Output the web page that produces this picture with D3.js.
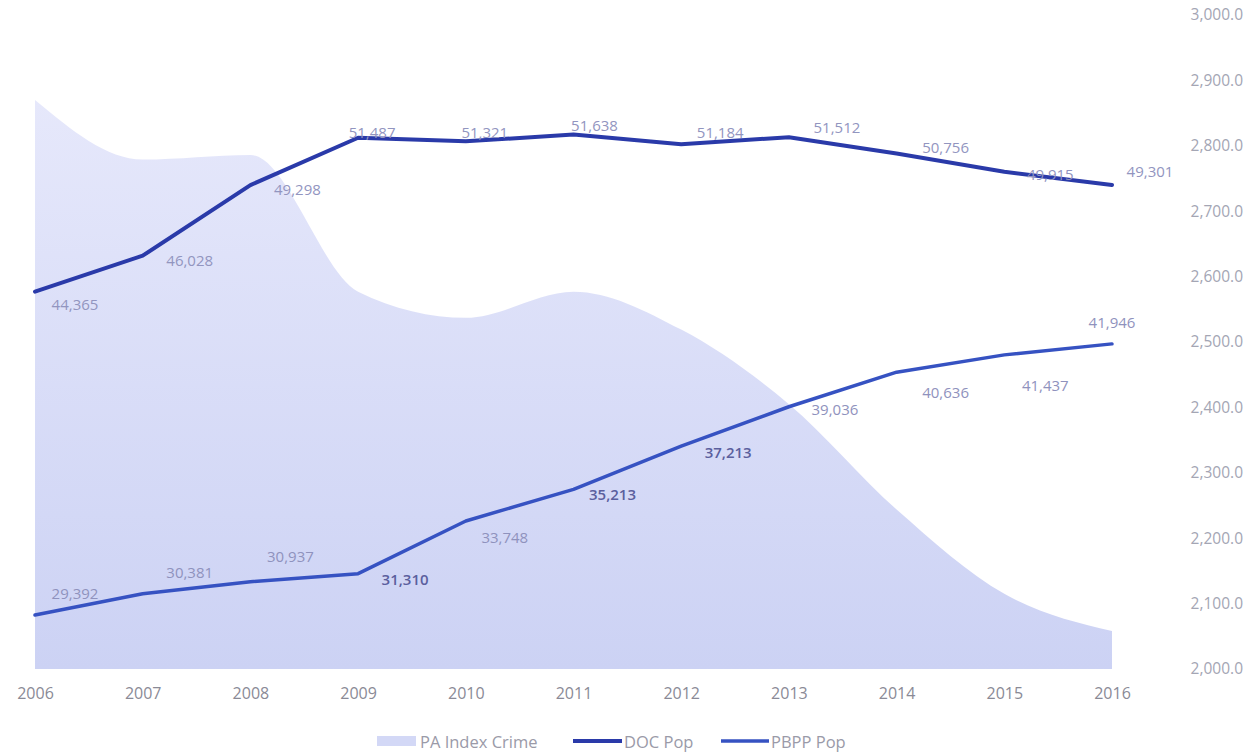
<!DOCTYPE html>
<html><head><meta charset="utf-8">
<script src="https://cdn.jsdelivr.net/npm/d3@7"></script>
<style>body{margin:0;background:#fff}svg{display:block;font-family:"Open Sans",sans-serif}</style>
</head><body><svg id="c" width="1256" height="753"></svg>
<script>
const years = ["2006","2007","2008","2009","2010","2011","2012","2013","2014","2015","2016"];
const crimeIndex = [2870,2779,2786,2577,2537,2577,2519,2405,2244,2115,2058];
const docPop = [44365,46028,49298,51487,51321,51638,51184,51512,50756,49915,49301];
const pbppPop = [29392,30381,30937,31310,33748,35213,37213,39036,40636,41437,41946];
const rightTicks = [2000,2100,2200,2300,2400,2500,2600,2700,2800,2900,3000];
const seriesNames = ["PA Index Crime","DOC Pop","PBPP Pop"];

// label placement (layout only): [dx, dy] of label centre from point
const docLabelOff = [[40,12],[47,4],[47,4],[14,-6],[19,-9],[21,-10],[39,-12],[48,-10],[49,-7],[46,2],[38,-14]];
const pbppLabelOff = [[40,-22],[47,-22],[40,-26],[47,5],[39,16],[39,5],[47,6],[46,2],[49,20],[41,30],[0,-22]];
const pbppEmph = [false,false,false,true,false,true,true,false,false,false,false];

const svg = d3.select("#c");
const x = d3.scalePoint().domain(years).range([35,1112]);
const yR = d3.scaleLinear().domain([2000,3000]).range([669,15]);
const yL = d3.scaleLinear().domain([26850,57170]).range([670,15]);

const defs = svg.append("defs");
const g = defs.append("linearGradient").attr("id","ag").attr("x1",0).attr("y1",0).attr("x2",0).attr("y2",1);
g.append("stop").attr("offset","0%").attr("stop-color","#e6e8fb");
g.append("stop").attr("offset","100%").attr("stop-color","#ccd2f4");

const area = d3.area().x((d,i)=>x(years[i])).y0(yR(2000)).y1(d=>yR(d)).curve(d3.curveMonotoneX);
svg.append("path").datum(crimeIndex).attr("d",area).attr("fill","url(#ag)");

const line = d3.line().x((d,i)=>x(years[i])).y(d=>yL(d));
svg.append("path").datum(docPop).attr("d",line).attr("fill","none").attr("stroke","#2a3aa9").attr("stroke-width",4).attr("stroke-linejoin","round").attr("stroke-linecap","round");
svg.append("path").datum(pbppPop).attr("d",line).attr("fill","none").attr("stroke","#3652c2").attr("stroke-width",3.5).attr("stroke-linejoin","round").attr("stroke-linecap","round");

const fmt = d3.format(",");
svg.append("g").selectAll("text").data(docPop).join("text")
  .attr("x",(d,i)=>x(years[i])+docLabelOff[i][0]).attr("y",(d,i)=>yL(d)+docLabelOff[i][1])
  .attr("text-anchor","middle").attr("dominant-baseline","central")
  .attr("font-size",15).attr("fill","#9295bf").text(d=>fmt(d));
svg.append("g").selectAll("text").data(pbppPop).join("text")
  .attr("x",(d,i)=>x(years[i])+pbppLabelOff[i][0]).attr("y",(d,i)=>yL(d)+pbppLabelOff[i][1])
  .attr("text-anchor","middle").attr("dominant-baseline","central")
  .attr("font-size",15).attr("fill",(d,i)=>pbppEmph[i]?"#5b5f9e":"#8f92bd")
  .attr("font-weight",(d,i)=>pbppEmph[i]?600:400).text(d=>fmt(d));

// right axis
const ra = svg.append("g").attr("transform","translate(1243,0)")
  .call(d3.axisRight(yR).tickValues(rightTicks).tickFormat(d3.format(",.1f")).tickSize(0).tickPadding(0));
ra.select(".domain").remove();
ra.selectAll("text").attr("text-anchor","end").attr("font-size",15.5).attr("fill","#a4a6b4").attr("font-family","Open Sans");

// x axis
const xa = svg.append("g").attr("transform","translate(0,693)")
  .call(d3.axisBottom(x).tickSize(0).tickPadding(0));
xa.select(".domain").remove();
xa.selectAll("text").attr("dy","0.35em").attr("font-size",16).attr("fill","#8a8a96").attr("font-family","Open Sans");

// legend
const lg = svg.append("g").attr("font-size",16.5).attr("fill","#9a9aa8");
lg.append("rect").attr("x",377).attr("y",736).attr("width",39).attr("height",10).attr("fill","#d3d8f6");
lg.append("text").attr("x",420).attr("y",741).attr("dominant-baseline","central").text(seriesNames[0]);
lg.append("line").attr("x1",573).attr("x2",622).attr("y1",741).attr("y2",741).attr("stroke","#2a3aa9").attr("stroke-width",4);
lg.append("text").attr("x",624).attr("y",741).attr("dominant-baseline","central").text(seriesNames[1]);
lg.append("line").attr("x1",721).attr("x2",769).attr("y1",741).attr("y2",741).attr("stroke","#3652c2").attr("stroke-width",3.5);
lg.append("text").attr("x",771).attr("y",741).attr("dominant-baseline","central").text(seriesNames[2]);
</script></body></html>
